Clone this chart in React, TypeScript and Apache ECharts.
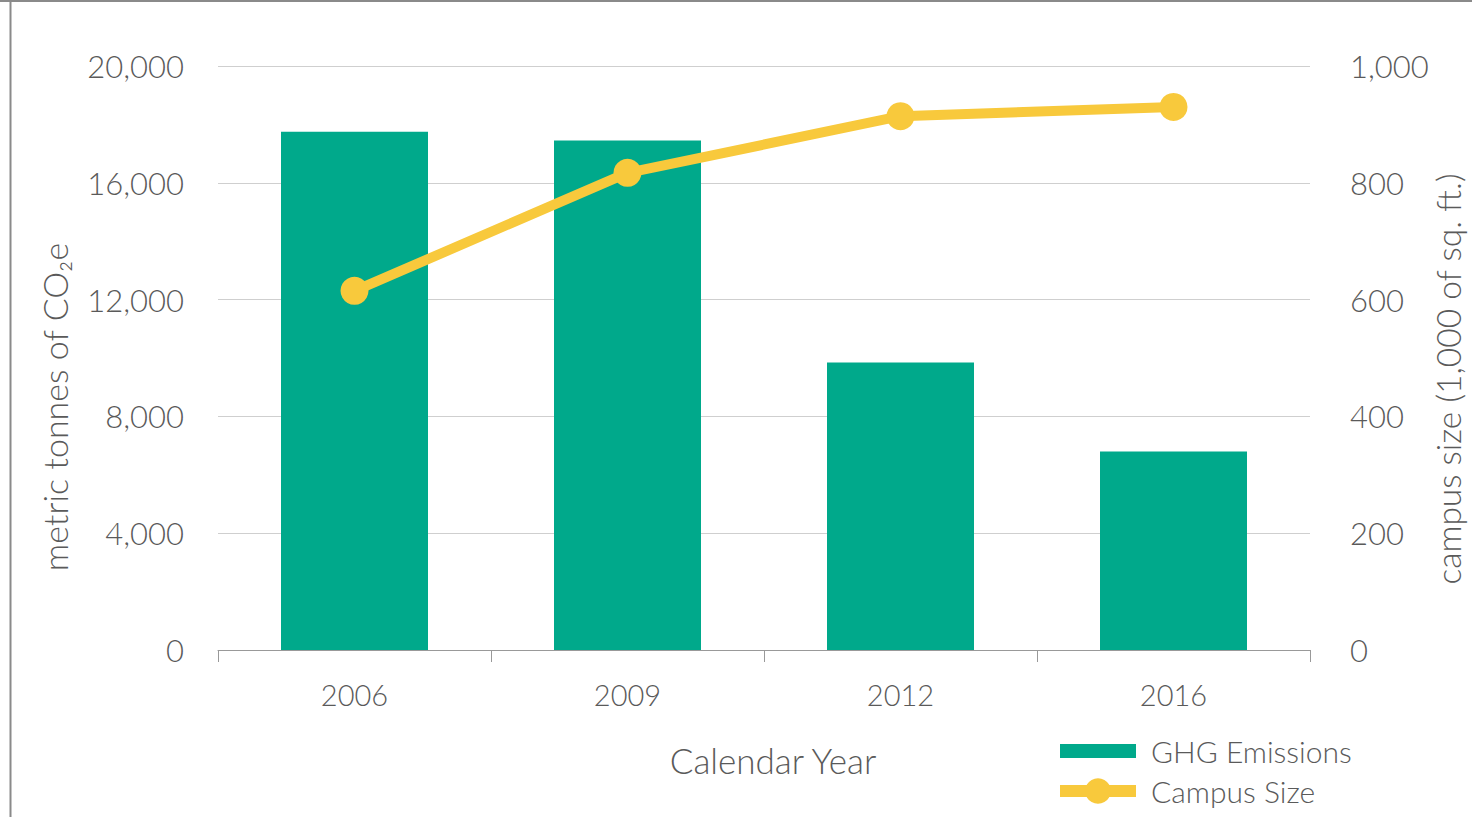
import React, { useEffect, useRef } from "react";
import * as echarts from "echarts";

const categories = ["2006", "2009", "2012", "2016"];
const ghgEmissions = [17750, 17450, 9850, 6800];
const campusSize = [615, 817, 914, 930];
const leftTicks = { min: 0, max: 20000, interval: 4000 };
const rightTicks = { min: 0, max: 1000, interval: 200 };
const leftAxisTitle = "metric tonnes of CO₂e";
const rightAxisTitle = "campus size (1,000 of sq. ft.)";

const FONT = "Lato";
const TEXT = "#5a5a5a";
const TEAL = "#00a98b";
const YELLOW = "#f8c93c";

export default function App() {
  const ref = useRef<HTMLDivElement>(null);
  useEffect(() => {
    if (!ref.current) return;
    const chart = echarts.init(ref.current, undefined, { renderer: "svg" });
    const fmt = (v: number) => v.toLocaleString("en-US");
    chart.setOption({
      animation: false,
      backgroundColor: "#ffffff",
      textStyle: { fontFamily: FONT, fontWeight: 300, color: TEXT },
      grid: { left: 218, right: 162, top: 66, bottom: 167, containLabel: false },
      graphic: [
        { type: "line", shape: { x1: 0, y1: 1, x2: 1472, y2: 1 }, style: { stroke: "#8a8a8a", lineWidth: 2 } },
        { type: "line", shape: { x1: 10.5, y1: 0, x2: 10.5, y2: 817 }, style: { stroke: "#8a8a8a", lineWidth: 2 } },
        {
          type: "text",
          x: 54,
          y: 407,
          rotation: Math.PI / 2,
          style: {
            text: leftAxisTitle,
            fontFamily: FONT,
            fontWeight: 300,
            fontSize: 34,
            fill: TEXT,
            align: "center",
            verticalAlign: "middle",
          },
        },
        {
          type: "text",
          x: 1448,
          y: 379,
          rotation: Math.PI / 2,
          style: {
            text: rightAxisTitle,
            fontFamily: FONT,
            fontWeight: 300,
            fontSize: 33.5,
            fill: TEXT,
            align: "center",
            verticalAlign: "middle",
          },
        },
      ],
      legend: [
        {
          orient: "vertical",
          left: 1060,
          top: 736,
          padding: 0,
          itemWidth: 76,
          itemHeight: 14,
          textStyle: { fontFamily: FONT, fontWeight: 300, fontSize: 30, color: TEXT, padding: [0, 0, 0, 10] },
          data: [{ name: "GHG Emissions", icon: "rect" }],
        },
        {
          orient: "vertical",
          left: 1054,
          top: 776,
          padding: 0,
          itemWidth: 76,
          itemHeight: 32,
          lineStyle: { width: 12 },
          textStyle: { fontFamily: FONT, fontWeight: 300, fontSize: 30, color: TEXT, padding: [0, 0, 0, 10] },
          data: [{ name: "Campus Size" }],
        },
      ],
      xAxis: {
        type: "category",
        data: categories,
        name: "Calendar Year",
        nameLocation: "middle",
        nameGap: 92,
        nameTextStyle: { fontFamily: FONT, fontWeight: 300, fontSize: 35, color: TEXT, padding: [0, 0, 0, 18] },
        axisLine: { lineStyle: { color: "#999", width: 1 } },
        axisTick: { show: true, length: 12, lineStyle: { color: "#999" } },
        axisLabel: { fontFamily: FONT, fontWeight: 300, fontSize: 29, color: TEXT, margin: 30 },
      },
      yAxis: [
        {
          type: "value",
          min: leftTicks.min,
          max: leftTicks.max,
          interval: leftTicks.interval,
          axisLine: { show: false },
          axisTick: { show: false },
          splitLine: { lineStyle: { color: "#cfcfcf", width: 1 } },
          axisLabel: { fontFamily: FONT, fontWeight: 300, fontSize: 31, color: TEXT, margin: 34, formatter: fmt },
        },
        {
          type: "value",
          min: rightTicks.min,
          max: rightTicks.max,
          interval: rightTicks.interval,
          position: "right",
          axisLine: { show: false },
          axisTick: { show: false },
          splitLine: { show: false },
          axisLabel: { fontFamily: FONT, fontWeight: 300, fontSize: 31, color: TEXT, margin: 40, formatter: fmt },
        },
      ],
      series: [
        {
          name: "GHG Emissions",
          type: "bar",
          data: ghgEmissions,
          barWidth: 147,
          itemStyle: { color: TEAL },
          yAxisIndex: 0,
        },
        {
          name: "Campus Size",
          type: "line",
          data: campusSize,
          yAxisIndex: 1,
          symbol: "circle",
          symbolSize: 28,
          lineStyle: { color: YELLOW, width: 10 },
          itemStyle: { color: YELLOW },
        },
      ],
    });
    return () => chart.dispose();
  }, []);
  return <div ref={ref} style={{ position: "fixed", left: 0, top: 0, width: 1472, height: 817 }} />;
}
